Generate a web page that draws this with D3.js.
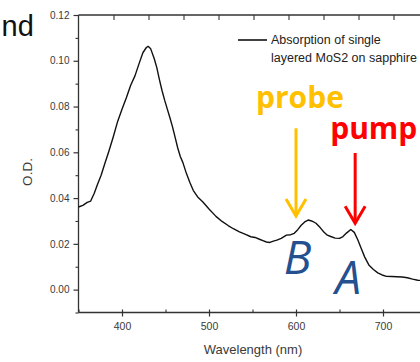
<!DOCTYPE html>
<html>
<head>
<meta charset="utf-8">
<script src="https://cdn.jsdelivr.net/npm/d3@7/dist/d3.min.js"></script>
<style>
  html, body { margin: 0; padding: 0; background: #fff; }
  svg { display: block; }
</style>
</head>
<body>
<svg id="chart" width="420" height="362"></svg>
<script>
// Absorption spectrum of single-layer MoS2 on sapphire (wavelength in nm, optical density)
const wavelength = [
  350, 355, 360, 364, 368, 372, 376, 380, 385, 390, 395, 400, 405, 410, 415, 420,
  424, 428, 430, 433, 437, 440, 443, 446, 449, 452, 455, 458, 461, 464, 467, 470,
  474, 478, 482, 487, 493, 500, 508, 515, 522, 528, 535, 542, 548, 553, 558, 562,
  566, 570, 574, 578, 583, 589, 594, 598, 602, 606, 610, 614, 618, 623, 628, 632,
  636, 640, 645, 650, 654, 658, 663, 667, 671, 675, 679, 684, 689, 694, 699, 704,
  710, 716, 722, 728, 734, 740, 745, 750
];
const opticalDensity = [
  0.0361, 0.0368, 0.0381, 0.0387, 0.0420, 0.0462, 0.0500, 0.0548, 0.0606, 0.0668, 0.0735, 0.0788, 0.0838, 0.0893, 0.0935, 0.0992,
  0.1035, 0.1058, 0.1063, 0.1052, 0.1010, 0.0970, 0.0918, 0.0870, 0.0828, 0.0790, 0.0752, 0.0712, 0.0666, 0.0620, 0.0582, 0.0555,
  0.0508, 0.0468, 0.0433, 0.0405, 0.0383, 0.0352, 0.0320, 0.0298, 0.0280, 0.0266, 0.0252, 0.0241, 0.0231, 0.0228, 0.0220, 0.0214,
  0.0208, 0.0206, 0.0212, 0.0216, 0.0224, 0.0238, 0.0240, 0.0246, 0.0262, 0.0281, 0.0296, 0.0304, 0.0300, 0.0290, 0.0270, 0.0252,
  0.0238, 0.0232, 0.0225, 0.0224, 0.0232, 0.0247, 0.0263, 0.0250, 0.0218, 0.0180, 0.0142, 0.0106, 0.0088, 0.0073, 0.0064, 0.0058,
  0.0057, 0.0056, 0.0055, 0.0052, 0.0046, 0.0041, 0.0040, 0.0038
];

const xMajorTicks = [400, 500, 600, 700];
const xMinorTicks = [350, 450, 550, 650, 750];
const yMajorTicks = [0.00, 0.02, 0.04, 0.06, 0.08, 0.10, 0.12];
const yMinorTicks = [-0.01, 0.01, 0.03, 0.05, 0.07, 0.09, 0.11];

const legendLines = ["Absorption of single", "layered MoS2 on sapphire"];

// Pump/probe annotations: arrow at a wavelength, from an upper OD to a tip OD
const markerNames = ["probe", "pump"];
const markerWavelength = [600, 668];
const markerTop = [0.0705, 0.0597];
const markerTip = [0.0322, 0.0290];

// Exciton labels
const excitonNames = ["B", "A"];
const excitonWavelength = [586, 645];
const excitonBaseOD = [0.0070, -0.0018];

const svg = d3.select("#chart");

const x = d3.scaleLinear().domain([350, 750]).range([78.5, 426.5]);
const y = d3.scaleLinear().domain([-0.01, 0.12]).range([312.5, 15]);
// secondary top scale, unlabeled ticks
const xTop = d3.scaleLinear().domain([0, 10]).range([78.5, 428.5]);

const axisColor = "#333";
const textColor = "#3a3a3a";
const font = "'Liberation Sans', Arial, sans-serif";

// frame lines
svg.append("line").attr("x1", x.range()[0]).attr("x2", 420).attr("y1", y.range()[1]).attr("y2", y.range()[1])
  .attr("stroke", axisColor).attr("stroke-width", 1.3);
svg.append("line").attr("x1", x.range()[0]).attr("x2", 420).attr("y1", y.range()[0]).attr("y2", y.range()[0])
  .attr("stroke", axisColor).attr("stroke-width", 1.3);
svg.append("line").attr("x1", x.range()[0]).attr("x2", x.range()[0]).attr("y1", y.range()[1]).attr("y2", y.range()[0])
  .attr("stroke", axisColor).attr("stroke-width", 1.3);

// left axis
const yAxis = d3.axisLeft(y).tickValues(yMajorTicks).tickFormat(d3.format(".2f")).tickSize(5).tickPadding(4);
const gy = svg.append("g").attr("transform", `translate(${x.range()[0]},0)`).call(yAxis);
gy.select(".domain").remove();
gy.selectAll(".tick line").attr("stroke", axisColor).attr("stroke-width", 1.2);
gy.selectAll(".tick text").attr("fill", textColor).style("font-family", font).style("font-size", "10px");
const gyMinor = svg.append("g").attr("transform", `translate(${x.range()[0]},0)`)
  .call(d3.axisLeft(y).tickValues(yMinorTicks).tickSize(3).tickFormat(""));
gyMinor.select(".domain").remove();
gyMinor.selectAll(".tick line").attr("stroke", axisColor).attr("stroke-width", 1.1);

// bottom axis
const xAxis = d3.axisBottom(x).tickValues(xMajorTicks).tickSize(4).tickPadding(6);
const gx = svg.append("g").attr("transform", `translate(0,${y.range()[0]})`).call(xAxis);
gx.select(".domain").remove();
gx.selectAll(".tick line").attr("stroke", axisColor).attr("stroke-width", 1.2).attr("y1", -3);
gx.selectAll(".tick text").attr("fill", textColor).style("font-family", font).style("font-size", "10.5px");
const gxMinor = svg.append("g").attr("transform", `translate(0,${y.range()[0]})`)
  .call(d3.axisBottom(x).tickValues(xMinorTicks).tickSize(-3).tickFormat(""));
gxMinor.select(".domain").remove();
gxMinor.selectAll(".tick line").attr("stroke", axisColor).attr("stroke-width", 1.1);

// top axis (inward ticks)
const gt = svg.append("g").attr("transform", `translate(0,${y.range()[1]})`)
  .call(d3.axisTop(xTop).ticks(10).tickSize(-5).tickFormat(""));
gt.select(".domain").remove();
gt.selectAll(".tick line").attr("stroke", axisColor).attr("stroke-width", 1.1);
gt.selectAll(".tick").filter(d => d === 0).remove();

// axis titles
svg.append("text").attr("x", 253).attr("y", 354).attr("text-anchor", "middle")
  .attr("fill", textColor).style("font-family", font).style("font-size", "13px").text("Wavelength (nm)");
svg.append("text").attr("transform", "translate(32,172) rotate(-90)").attr("text-anchor", "middle")
  .attr("fill", textColor).style("font-family", font).style("font-size", "13.5px").text("O.D.");

// spectrum
const points = wavelength.map((w, i) => [w, opticalDensity[i]]);
svg.append("path").datum(points)
  .attr("fill", "none").attr("stroke", "#111").attr("stroke-width", 1.4).attr("stroke-linejoin", "round")
  .attr("d", d3.line().x(d => x(d[0])).y(d => y(d[1])));

// legend
svg.append("line").attr("x1", 238).attr("x2", 267).attr("y1", 40).attr("y2", 40)
  .attr("stroke", "#111").attr("stroke-width", 1.6);
svg.selectAll(".legend").data(legendLines).enter().append("text")
  .attr("x", 271).attr("y", (d, i) => 43.5 + i * 18)
  .attr("fill", "#222").style("font-family", font).style("font-size", "12.5px").text(d => d);

// partial slide heading at top left
svg.append("text").attr("x", 1.5).attr("y", 36).attr("fill", "#111")
  .style("font-family", font).style("font-size", "29px").text("nd");

// pump / probe arrows
const markerColors = ["#FFC000", "#FF0000"];
const labelOffsets = [[-40, -20], [-25, -14]];
markerNames.forEach((name, i) => {
  const cx = x(markerWavelength[i]);
  const top = y(markerTop[i]);
  const tip = y(markerTip[i]);
  const g = svg.append("g").attr("stroke", markerColors[i]).attr("stroke-width", 3).attr("fill", "none")
    .attr("stroke-linecap", "butt").attr("stroke-linejoin", "miter");
  g.append("line").attr("x1", cx).attr("x2", cx).attr("y1", top).attr("y2", tip - 1);
  g.append("path").attr("d", `M${cx - 10},${tip - 17} L${cx},${tip} L${cx + 10},${tip - 17}`);
  svg.append("text").attr("x", cx + labelOffsets[i][0]).attr("y", top + labelOffsets[i][1])
    .attr("fill", markerColors[i]).style("font-family", "'Open Sans', sans-serif")
    .style("font-weight", "700").style("font-size", "30px").text(name);
});

// exciton labels
excitonNames.forEach((name, i) => {
  svg.append("text").attr("x", x(excitonWavelength[i])).attr("y", y(excitonBaseOD[i]))
    .attr("fill", "#24508F").style("font-family", "'Open Sans', sans-serif")
    .style("font-style", "italic").style("font-size", "46px").text(name);
});
</script>
</body>
</html>
